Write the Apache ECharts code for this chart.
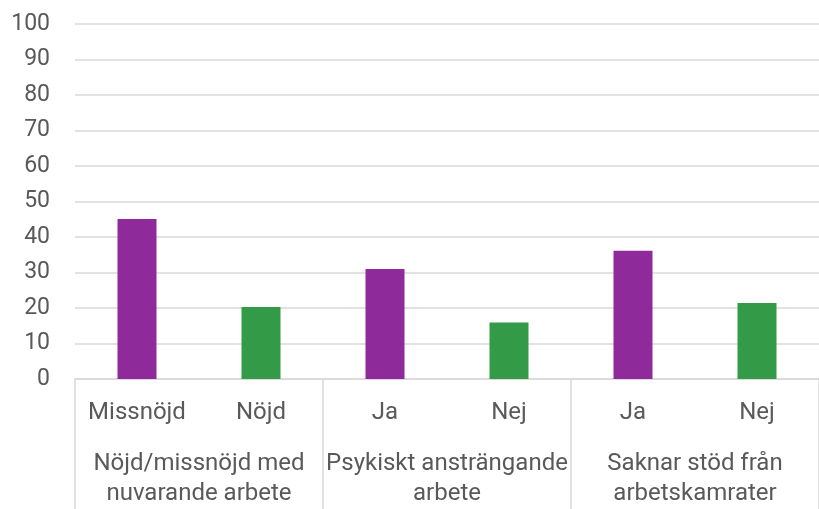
<!DOCTYPE html>
<html>
<head>
<meta charset="utf-8">
<script src="https://cdn.jsdelivr.net/npm/echarts@6/dist/echarts.min.js"></script>
<style>
  html, body { margin: 0; padding: 0; background: #fff; }
  #chart { width: 819px; height: 509px; }
</style>
</head>
<body>
<div id="chart"></div>
<script>
// kategorier och värden (procent)
const categories = ["Missnöjd", "Nöjd", "Ja", "Nej", "Ja", "Nej"];
const groups = [
  "Nöjd/missnöjd med\nnuvarande arbete",
  "Psykiskt ansträngande\narbete",
  "Saknar stöd från\narbetskamrater"
];
const values = [45.1, 20.3, 31.0, 15.9, 36.1, 21.4];
const yTicks = [0, 10, 20, 30, 40, 50, 60, 70, 80, 90, 100];

const PURPLE = "#8e2a99";
const GREEN = "#339b47";
const TEXT = "#595959";
const LINE = "#d9d9d9";

let myChart = echarts.init(document.getElementById("chart"));

let option = {
  animation: false,
  textStyle: { fontFamily: "Roboto" },
  grid: { left: 75, right: 0, top: 24, bottom: 126 },
  xAxis: [
    {
      type: "category",
      data: categories,
      axisLine: { lineStyle: { color: LINE, width: 1.5 } },
      axisTick: { show: false },
      axisLabel: { interval: 0, fontSize: 24, lineHeight: 30, color: TEXT, margin: 19 },
    },
    {
      type: "category",
      data: groups,
      position: "bottom",
      axisLine: { show: false },
      axisTick: {
        show: true,
        length: 130,
        interval: 0,
        lineStyle: { color: LINE, width: 1.5 },
      },
      axisLabel: {
        interval: 0,
        fontSize: 24,
        lineHeight: 30,
        color: TEXT,
        margin: 70,
      },
    },
  ],
  yAxis: {
    type: "value",
    min: yTicks[0],
    max: yTicks[yTicks.length - 1],
    interval: 10,
    axisLine: { show: false },
    axisTick: { show: false },
    splitLine: { lineStyle: { color: LINE, width: 1.5 } },
    axisLabel: { fontSize: 23, color: TEXT, margin: 25 },
  },
  series: [
    {
      type: "bar",
      data: values,
      barWidth: 39,
      itemStyle: {
        color: (p) => (p.dataIndex % 2 === 0 ? PURPLE : GREEN),
      },
    },
  ],
};

myChart.setOption(option);
</script>
</body>
</html>
